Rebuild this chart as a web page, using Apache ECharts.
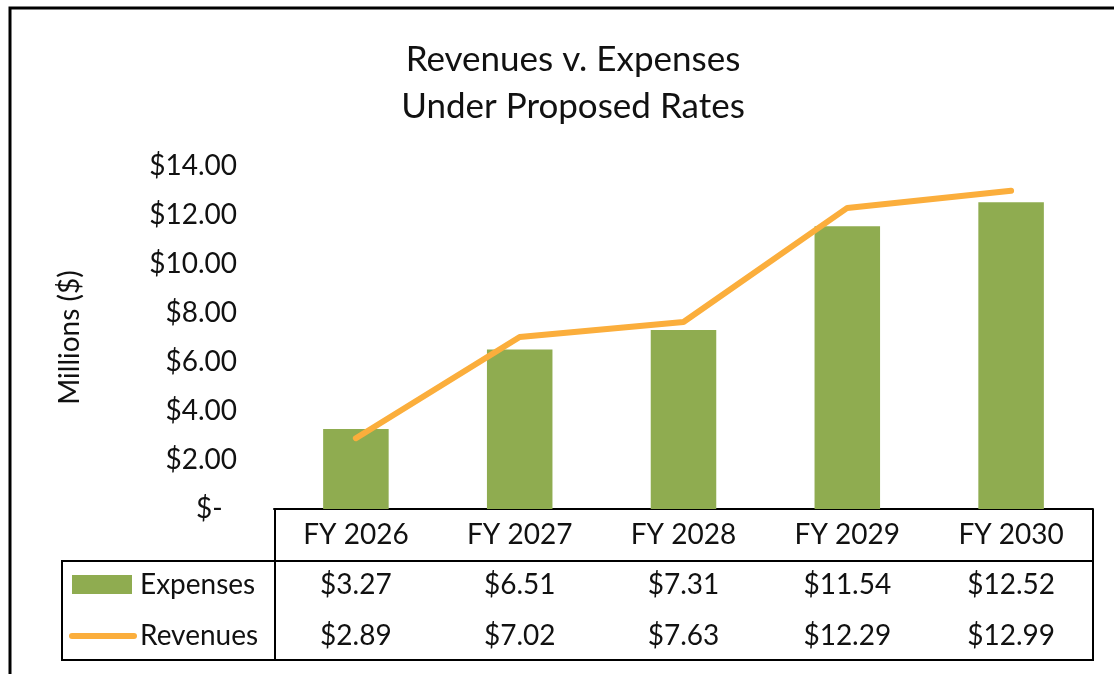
<!doctype html>
<html>
    <head>
        <meta charset="utf-8">
        <title>Revenues v. Expenses Under Proposed Rates</title>
        <style>
            html, body { margin: 0; padding: 0; background: #fff; }
            #main { width: 1114px; height: 674px; }
        </style>
    </head>
    <body>
        <div id="main"></div>
        <script src="https://cdn.jsdelivr.net/npm/echarts@6/dist/echarts.min.js"></script>
        <script>
            // chart data
            var years = ['FY 2026', 'FY 2027', 'FY 2028', 'FY 2029', 'FY 2030'];
            var expenses = [3.27, 6.51, 7.31, 11.54, 12.52];
            var revenues = [2.89, 7.02, 7.63, 12.29, 12.99];
            var seriesNames = ['Expenses', 'Revenues'];

            var green = '#8fac50';
            var orange = '#fbae3c';
            var font = 'Lato';
            var fs = 28;

            function money(v) {
                return '$' + v.toFixed(2);
            }

            var chart = echarts.init(document.getElementById('main'));

            // x axes: first one holds the categories, the other two are the data table rows
            var baseX = {
                type: 'category',
                position: 'bottom',
                axisTick: { show: false },
                axisLine: { show: false },
                axisLabel: { fontFamily: font, fontSize: fs, color: '#111', margin: 12 }
            };

            chart.setOption({
                animation: false,
                title: {
                    text: 'Revenues v. Expenses\nUnder Proposed Rates',
                    left: 568,
                    textAlign: 'center',
                    top: 31,
                    textStyle: { fontFamily: font, fontSize: 35, fontWeight: 'normal', color: '#111', lineHeight: 47 }
                },
                grid: { left: 274, right: 21, top: 166, bottom: 165 },
                xAxis: [
                    Object.assign({}, baseX, {
                        data: years,
                        axisLine: { show: true, lineStyle: { color: '#000', width: 2 } }
                    }),
                    Object.assign({}, baseX, { data: expenses.map(money), offset: 50 }),
                    Object.assign({}, baseX, { data: revenues.map(money), offset: 101 })
                ],
                yAxis: {
                    type: 'value',
                    min: 0,
                    max: 14,
                    interval: 2,
                    name: 'Millions ($)',
                    nameLocation: 'middle',
                    nameGap: 190,
                    nameTextStyle: { fontFamily: font, fontSize: fs, color: '#111' },
                    splitLine: { show: false },
                    axisLine: { show: false },
                    axisTick: { show: false },
                    axisLabel: {
                        fontFamily: font, fontSize: fs, color: '#111', margin: 37,
                        formatter: function (v) { return v === 0 ? '$-  ' : money(v); }
                    }
                },
                series: [
                    {
                        name: seriesNames[0],
                        type: 'bar',
                        data: expenses,
                        barWidth: '40%',
                        itemStyle: { color: green },
                        z: 2
                    },
                    {
                        name: seriesNames[1],
                        type: 'line',
                        data: revenues,
                        symbol: 'none',
                        lineStyle: { color: orange, width: 6, cap: 'round', join: 'round' },
                        z: 3
                    }
                ],
                graphic: [
                    // outer frame (top and left edges visible)
                    { type: 'polyline', shape: { points: [[10, 674], [10, 8], [1114, 8]] }, style: { stroke: '#000', lineWidth: 3, fill: null } },
                    // data table borders
                    { type: 'line', shape: { x1: 62, y1: 561, x2: 1093, y2: 561 }, style: { stroke: '#000', lineWidth: 2 } },
                    { type: 'line', shape: { x1: 62, y1: 660, x2: 1093, y2: 660 }, style: { stroke: '#000', lineWidth: 2 } },
                    { type: 'line', shape: { x1: 62, y1: 560, x2: 62, y2: 661 }, style: { stroke: '#000', lineWidth: 2 } },
                    { type: 'line', shape: { x1: 275, y1: 509, x2: 275, y2: 661 }, style: { stroke: '#000', lineWidth: 2 } },
                    { type: 'line', shape: { x1: 1093, y1: 509, x2: 1093, y2: 661 }, style: { stroke: '#000', lineWidth: 2 } },
                    // legend keys inside the table
                    { type: 'rect', shape: { x: 72, y: 575, width: 60, height: 19 }, style: { fill: green } },
                    { type: 'line', shape: { x1: 72, y1: 636, x2: 134, y2: 636 }, style: { stroke: orange, lineWidth: 6, lineCap: 'round' } },
                    { type: 'text', x: 140, y: 585, style: { text: seriesNames[0], font: fs + 'px ' + font, fill: '#111', verticalAlign: 'middle' } },
                    { type: 'text', x: 140, y: 636, style: { text: seriesNames[1], font: fs + 'px ' + font, fill: '#111', verticalAlign: 'middle' } }
                ]
            });

            window.addEventListener('resize', function () {
                chart.resize();
            });
        </script>
    </body>
</html>
